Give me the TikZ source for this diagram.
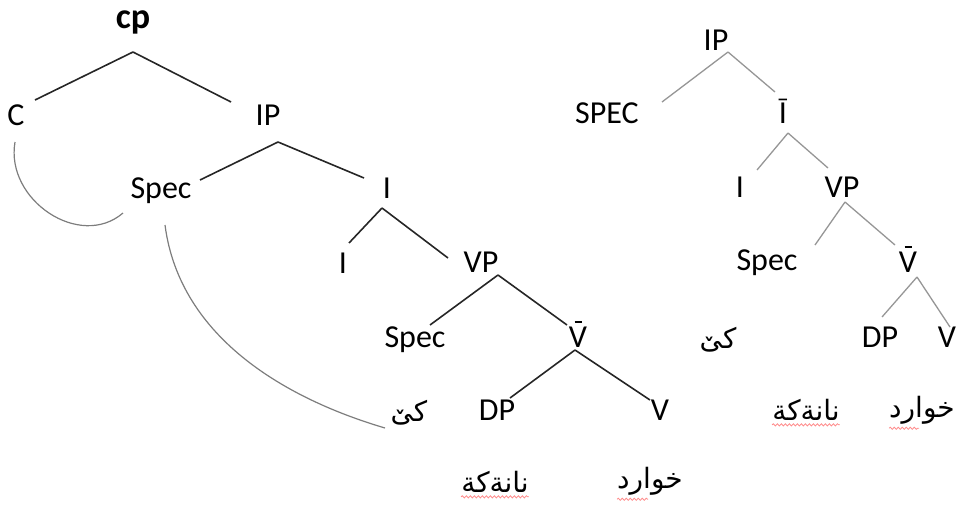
\documentclass[tikz,border=0pt]{standalone}
\usepackage{fontspec}
\setmainfont{Carlito}
\newfontfamily\arabicfont[Script=Arabic]{DejaVu Sans}
\TeXXeTstate=1
\usetikzlibrary{calc,decorations.pathmorphing}
\definecolor{rgray}{RGB}{150,150,150}
\definecolor{cgray}{RGB}{125,125,125}
\newcommand\barV{\leavevmode\hbox{\ooalign{V\cr\hidewidth\raisebox{24.5pt}{\rule{7pt}{1.4pt}}\hidewidth\cr}}}
\tikzset{
  lab/.style={inner sep=0pt, anchor=base, font=\fontsize{32}{38}\selectfont},
  arab/.style={inner sep=0pt, anchor=center, font=\arabicfont\fontsize{28}{32}\selectfont},
  ledge/.style={line width=1.6pt, black!85},
  redge/.style={line width=1.3pt, rgray},
  link/.style={line width=1.2pt, cgray},
  wavy/.style={red!45, line width=0.8pt, decorate, decoration={snake, amplitude=1.1pt, segment length=4pt}}
}
\begin{document}
\begin{tikzpicture}[x=1pt,y=-1pt]
\useasboundingbox (0,0) rectangle (957,506);
% ---------- left tree ----------
\node[lab, font=\bfseries\fontsize{36}{40}\selectfont] (cp) at (133,28) {cp};
\node[lab] (C) at (16,125) {C};
\node[lab] (IPa) at (268,125) {IP};
\node[lab] (SpecA) at (161,198) {Spec};
\node[lab] (Ia) at (387,198) {I};
\node[lab] (Ib) at (343,273) {I};
\node[lab] (VPa) at (481,272) {VP};
\node[lab] (SpecB) at (415,347) {Spec};
\node[lab] (Vbara) at (578,347) {\barV};
\node[arab] (kea) at (409,413) {\beginR كێ\endR};
\node[lab] (DPa) at (497,420) {DP};
\node[lab] (Va) at (660,420) {V};
\node[arab] (nana) at (495,482) {\beginR نانةكة\endR};
\node[arab] (xwa) at (650,481) {\beginR خوارد\endR};
\draw[ledge] ($(cp.base)+(0,24)$) -- ($(C.base)+(19,-25)$);
\draw[ledge] ($(cp.base)+(0,24)$) -- ($(IPa.base)+(-37,-23)$);
\draw[ledge] ($(IPa.base)+(10,17)$) -- ($(SpecA.base)+(39,-18)$);
\draw[ledge] ($(IPa.base)+(10,17)$) -- ($(Ia.base)+(-23,-20)$);
\draw[ledge] ($(Ia.base)+(-5,10)$) -- ($(Ib.base)+(6,-30)$);
\draw[ledge] ($(Ia.base)+(-5,10)$) -- ($(VPa.base)+(-33,-14)$);
\draw[ledge] ($(VPa.base)+(17,3)$) -- ($(SpecB.base)+(15,-22)$);
\draw[ledge] ($(VPa.base)+(17,3)$) -- ($(Vbara.base)+(-11,-22)$);
\draw[ledge] ($(Vbara.base)+(-3,3)$) -- ($(DPa.base)+(13,-22)$);
\draw[ledge] ($(Vbara.base)+(-3,3)$) -- ($(Va.base)+(-10,-20)$);
\draw[link] ($(C.base)+(-1,17)$) .. controls +(-10,58) and +(-43,37) .. ($(SpecA.base)+(-38,15)$);
\draw[link] ($(SpecA.base)+(4,27)$) .. controls +(15,115) and +(-95,-28) .. ($(kea.center)+(-24,15)$);
\draw[wavy] ($(nana.south west)+(0,4)$) -- ($(nana.south east)+(0,4)$);
\draw[wavy] ($(xwa.south west)+(0,4)$) -- ($(xwa.south)+(-2,4)$);
% ---------- right tree ----------
\node[lab] (IPr) at (716,50) {IP};
\node[lab] (SPECr) at (607,123) {SPEC};
\node[lab] (Ibarr) at (783,123) {Ī};
\node[lab] (Ir) at (740,197) {I};
\node[lab] (VPr) at (842,197) {VP};
\node[lab] (Specr) at (767,270) {Spec};
\node[lab] (Vbarr) at (908,272) {\barV};
\node[lab] (DPr) at (880,347) {DP};
\node[lab] (Vr) at (947,347) {V};
\node[arab] (ker) at (718,340) {\beginR كێ\endR};
\node[arab] (nanr) at (806,410) {\beginR نانةكة\endR};
\node[arab] (xwr) at (922,410) {\beginR خوارد\endR};
\draw[redge] ($(IPr.base)+(12,2)$) -- ($(SPECr.base)+(55,-21)$);
\draw[redge] ($(IPr.base)+(12,2)$) -- ($(Ibarr.base)+(-8,-31)$);
\draw[redge] ($(Ibarr.base)+(5,10)$) -- ($(Ir.base)+(17,-27)$);
\draw[redge] ($(Ibarr.base)+(5,10)$) -- ($(VPr.base)+(-14,-29)$);
\draw[redge] ($(VPr.base)+(3,5)$) -- ($(Specr.base)+(48,-25)$);
\draw[redge] ($(VPr.base)+(3,5)$) -- ($(Vbarr.base)+(-13,-27)$);
\draw[redge] ($(Vbarr.base)+(9,5)$) -- ($(DPr.base)+(2,-30)$);
\draw[redge] ($(Vbarr.base)+(9,5)$) -- ($(Vr.base)+(3,-20)$);
\draw[wavy] ($(nanr.south west)+(0,4)$) -- ($(nanr.south east)+(0,4)$);
\draw[wavy] ($(xwr.south west)+(0,4)$) -- ($(xwr.south)+(-3,4)$);
\end{tikzpicture}
\end{document}
